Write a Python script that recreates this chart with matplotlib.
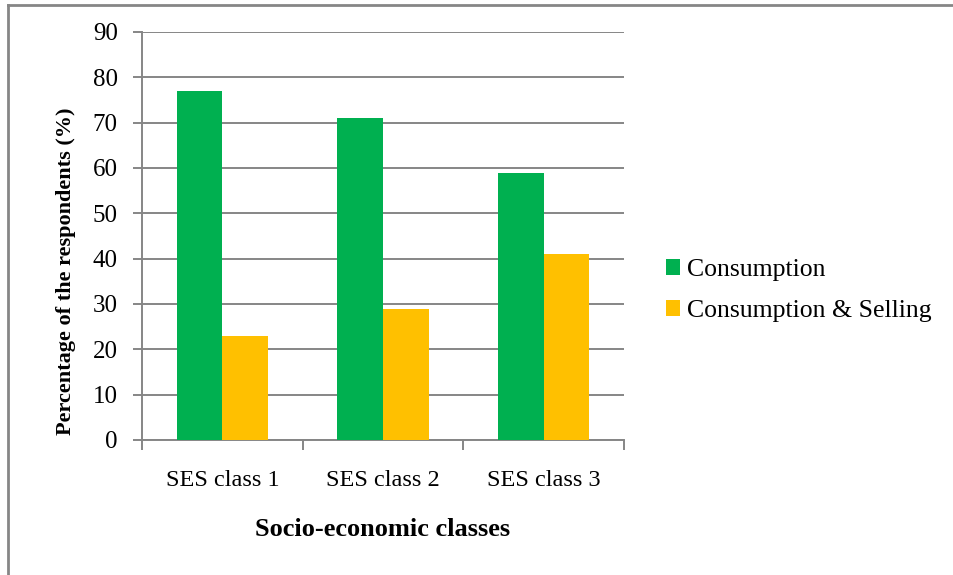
import matplotlib.pyplot as plt
from matplotlib.lines import Line2D
import numpy as np

classes = ["SES class 1", "SES class 2", "SES class 3"]
consumption = [77, 71, 59]
consumption_selling = [23, 29, 41]

plt.rcParams['font.family'] = ['Liberation Serif', 'DejaVu Serif']

fig = plt.figure(figsize=(9.54, 5.75), dpi=100)
ax = fig.add_axes([142/954, 1 - 440/575, (624-142)/954, (440-32)/575])

x = np.arange(1, len(classes) + 1)
w = 0.285
ax.bar(x - w/2, consumption, w, color="#00b050", label="Consumption", zorder=3)
ax.bar(x + w/2, consumption_selling, w, color="#ffc000", label="Consumption & Selling", zorder=3)

gray = "#868686"
ax.set_xlim(0.5, len(classes) + 0.5)
ax.set_ylim(0, 90)
ax.set_yticks(range(0, 91, 10))
ax.yaxis.grid(True, color=gray, linewidth=1.4, zorder=0)
ax.tick_params(axis="y", labelsize=18, length=6.5, width=1.4, color=gray, pad=11)

# category boundaries as major ticks, names at centers
ax.set_xticks(np.arange(0.5, len(classes) + 1, 1))
ax.set_xticklabels([])
ax.set_xticks(x, minor=True)
ax.set_xticklabels(classes, minor=True, fontsize=17.5)
ax.tick_params(axis="x", which="major", length=7, width=1.4, color=gray, direction="out")
ax.tick_params(axis="x", which="minor", length=0, pad=21.5)

for s in ["top", "right"]:
    ax.spines[s].set_visible(False)
for s in ["left", "bottom"]:
    ax.spines[s].set_color(gray)
    ax.spines[s].set_linewidth(1.4)

ax.set_ylabel("Percentage of the respondents (%)", fontsize=16, fontweight="bold")
ax.yaxis.set_label_coords((76 - 142) / 482, (440 - 271) / 408)
ax.set_xlabel("Socio-economic classes", fontsize=19, fontweight="bold")
ax.xaxis.set_label_coords(0.5, (440 - 518) / 408)

fig.legend(loc="center left", bbox_to_anchor=(666/954, 1 - 290.5/575), frameon=False,
           fontsize=18.5, handlelength=0.55, handleheight=0.55, handletextpad=0.25,
           labelspacing=0.75, borderpad=0, borderaxespad=0)

# outer frame (left and top edges visible)
fig.add_artist(Line2D([8/954, 8/954], [0, 1 - 5/575], transform=fig.transFigure, color=gray, linewidth=2))
fig.add_artist(Line2D([8/954, 1], [1 - 5/575, 1 - 5/575], transform=fig.transFigure, color=gray, linewidth=2))

fig.savefig("out.png", dpi=100)
